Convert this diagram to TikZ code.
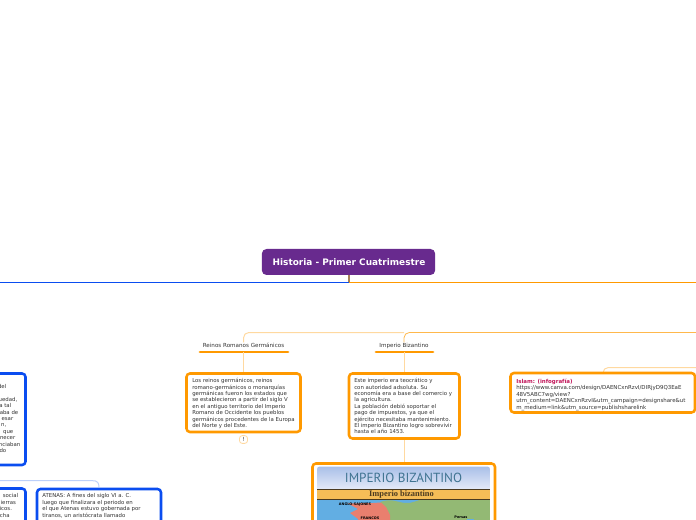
\documentclass[tikz,border=0pt]{standalone}
\usepackage{fontspec}
\setmainfont{DejaVu Sans}
\newfontfamily\headfont{PT Sans}
\newfontfamily\bandfont{Liberation Serif}
\newcommand{\rtl}[2]{\makebox[#1pt][r]{#2}}
\definecolor{purp}{HTML}{682A8E}
\definecolor{blu}{HTML}{0A4DF0}
\definecolor{org}{HTML}{FF9900}
\definecolor{lorg}{HTML}{FFD9A0}
\definecolor{lblu}{HTML}{BCD0FA}
\definecolor{txt}{HTML}{333333}
\definecolor{headtop}{HTML}{A9BFE8}
\definecolor{headbot}{HTML}{E4EAF8}
\definecolor{headtxt}{HTML}{3F7391}
\definecolor{bandc}{HTML}{F5BD57}
\definecolor{banddark}{HTML}{4A3A20}
\definecolor{sea}{HTML}{62AEE3}
\definecolor{land}{HTML}{93B974}
\definecolor{redland}{HTML}{EA7F6E}
\tikzset{
  x=0.75pt,y=-0.75pt,
  box/.style={draw=#1,line width=1.9pt,rounded corners=2.6pt,fill=white,inner sep=0pt},
  body/.style={anchor=north west,inner sep=0pt,align=left,text=txt,font=\fontsize{4.05}{4.82}\selectfont},
  lab/.style={inner sep=0pt,anchor=base,text=txt,font=\fontsize{4.2}{5}\selectfont},
  maplab/.style={inner sep=0pt,text=black,font=\fontsize{2.6}{3}\selectfont\bfseries},
  bar/.style={draw=org,line width=2.1pt,line cap=round},
  link/.style={draw=lorg,line width=0.75pt,rounded corners=4pt},
  linkb/.style={draw=lblu,line width=0.75pt,rounded corners=4pt},
}
\begin{document}
\begin{tikzpicture}
\useasboundingbox (0,0) rectangle (696,520);
% connectors
\draw[blu,line width=0.8pt] (0,282.5) -- (349,282.5);
\draw[org,line width=0.8pt] (349,282.5) -- (696,282.5);
% titles
\node[lab] (t1) at (243.5,347) {Reinos Romanos Germánicos};
\node[lab] (t2) at (404,347) {Imperio Bizantino};
\coordinate (tr) at (696,332.5);
\coordinate (tm) at (404,332.5);
\coordinate (trb) at (696,367.5);
\draw[link] (t1.north) -- (243.5,332.5) -- (tm);
\draw[draw=org!70!white,line width=.6pt,rounded corners=4pt] (t2.north) -- (tm) -- (tr);
\draw[bar] (200,352) coordinate (b1l) -- (288,352) coordinate (b1r);
\draw[bar] (376,352) coordinate (b2l) -- (433,352) coordinate (b2r);
% root
\node[fill=purp,rounded corners=3.5pt,minimum width=130pt,minimum height=19.5pt,inner sep=0pt] (root) at (348.5,262) {};
\node[text=white,inner sep=0pt,font=\fontsize{6.7}{7}\selectfont\bfseries] (roott) at (349,262) {Historia - Primer Cuatrimestre};
\coordinate (fork) at (349,282);
\draw[draw=brown!60!gray,line width=1.1pt] (root.south -| fork) -- (fork);
% box1
\draw[link] (243.5,352) -- (243.5,373);
\draw[box=org] (186.5,373.5) rectangle (300.5,432);
\node[body] (b1) at (192,378) {Los reinos germánicos, reinos\\romano-germánicos o monarquías\\germánicas fueron los estados que\\se establecieron a partir del siglo V\\en el antiguo territorio del Imperio\\Romano de Occidente los pueblos\\germánicos procedentes de la Europa\\del Norte y del Este.};
\node[draw=lorg,line width=.6pt,rounded corners=2pt,fill=white,minimum width=6pt,minimum height=5.8pt,inner sep=0pt,text=txt,font=\fontsize{4.2}{5}\selectfont] (ex) at (243.5,439.5) {!};
% box2
\draw[link] (404,352) -- (404,373);
\draw[link] (404,438) -- (404,463);
\draw[box=org] (349,373.5) rectangle (459.5,438.5);
\node[body] (b2) at (354,378) {Este imperio era teocrático y\\con autoridad adsoluta. Su\\economía era a base del comercio y\\la agricultura.\\La población debió soportar el\\pago de impuestos, ya que el\\ejército necesitaba mantenimiento.\\El imperio Bizantino logro sobrevivir\\hasta el año 1453.};
% box3
\draw[link] (603,372) -- (603,367.5) -- (trb);
\draw[box=org] (510.5,373) rectangle (695,412.5);
\node[body,font=\fontsize{4.1}{4.9}\selectfont] (b3) at (516,378.5) {{\color[HTML]{C2185B}\bfseries Islam: (infografía)}\\https://www.canva.com/design/DAENCxnRzvI/DIRjyD9Q3EaE\\48V5ABC7wg/view?\\utm\_content=DAENCxnRzvI\&utm\_campaign=designshare\&ut\\m\_medium=link\&utm\_source=publishsharelink};
% left top
\draw[box=blu] (-10,373.5) rectangle (25.5,465);
\node[body] (b4) at (0,384) {\rtl{4.5}{del}\\\mbox{}\\\rtl{12.75}{uedad,}\\\rtl{8.25}{a tal}\\\rtl{13.5}{aba de}\\\rtl{9.75}{esar}\\\rtl{4.5}{n,}\\\rtl{9.75}{que}\\\rtl{11.25}{necer}\\\rtl{15}{nciaban}\\\rtl{4.5}{do}};
% lower left
\coordinate (lbl) at (0,480.5);
\coordinate (lbc) at (99,487);
\draw[linkb] (lbl) -- (90,480.5) .. controls (97,481) and (99,483) .. (lbc);
\draw[box=blu] (-10,488.5) rectangle (25.5,530);
\node[body] (b5) at (0,493.5) {\rtl{13.5}{social}\\\rtl{11.8}{ierras}\\\rtl{8.8}{icos.}\\\rtl{7}{cha}};
\draw[box=blu] (37,489) rectangle (161,530);
\node[body] (b6) at (42,493.5) {ATENAS: A fines del siglo VI a. C.\\luego que finalizara el periodo en\\el que Atenas estuvo gobernada por\\tiranos, un aristócrata llamado};
% image box
\draw[box=org] (312.5,463.5) rectangle (495,530);
\begin{scope}
\clip[rounded corners=2pt] (317,466.5) rectangle (490,530);
\shade[top color=headtop,bottom color=headbot] (317,466.5) rectangle (490,489);
\fill[bandc] (317,489.5) rectangle (490,498.5);
\fill[sea] (317,499) rectangle (490,530);
\fill[land] (380,502) .. controls (392,498) and (396,502) .. (405,503) .. controls (412,504) and (416,500) .. (425,499) -- (490,499) -- (490,530) -- (386,530) -- (390,515) -- (384,506) -- cycle;
\fill[redland] (348,503.5) -- (373,503) -- (381,502.5) -- (386,507) -- (390,515) -- (390,530) -- (360,530) -- (358,519) -- (350,513) -- (358,509) -- cycle;
\fill[sea] (467,518.5) rectangle (474,530);
\draw[banddark,line width=.55pt] (317,489.2) -- (490,489.2);
\draw[banddark,line width=.75pt] (317,499) -- (490,499);
\end{scope}
\node[inner sep=0pt,text=headtxt,font=\fontsize{9.9}{10}\headfont] (h1) at (403.5,477.5) {IMPERIO BIZANTINO};
\node[inner sep=0pt,text=banddark,font=\fontsize{6.3}{7}\bandfont\bfseries] (h2) at (401.5,494) {Imperio bizantino};
\node[maplab] (m1) at (355,504.5) {ANGLO-SAJONES};
\node[maplab] (m2) at (370,518) {FRANCOS};
\node[maplab] (m3) at (461,517) {Persas};
\end{tikzpicture}
\end{document}
